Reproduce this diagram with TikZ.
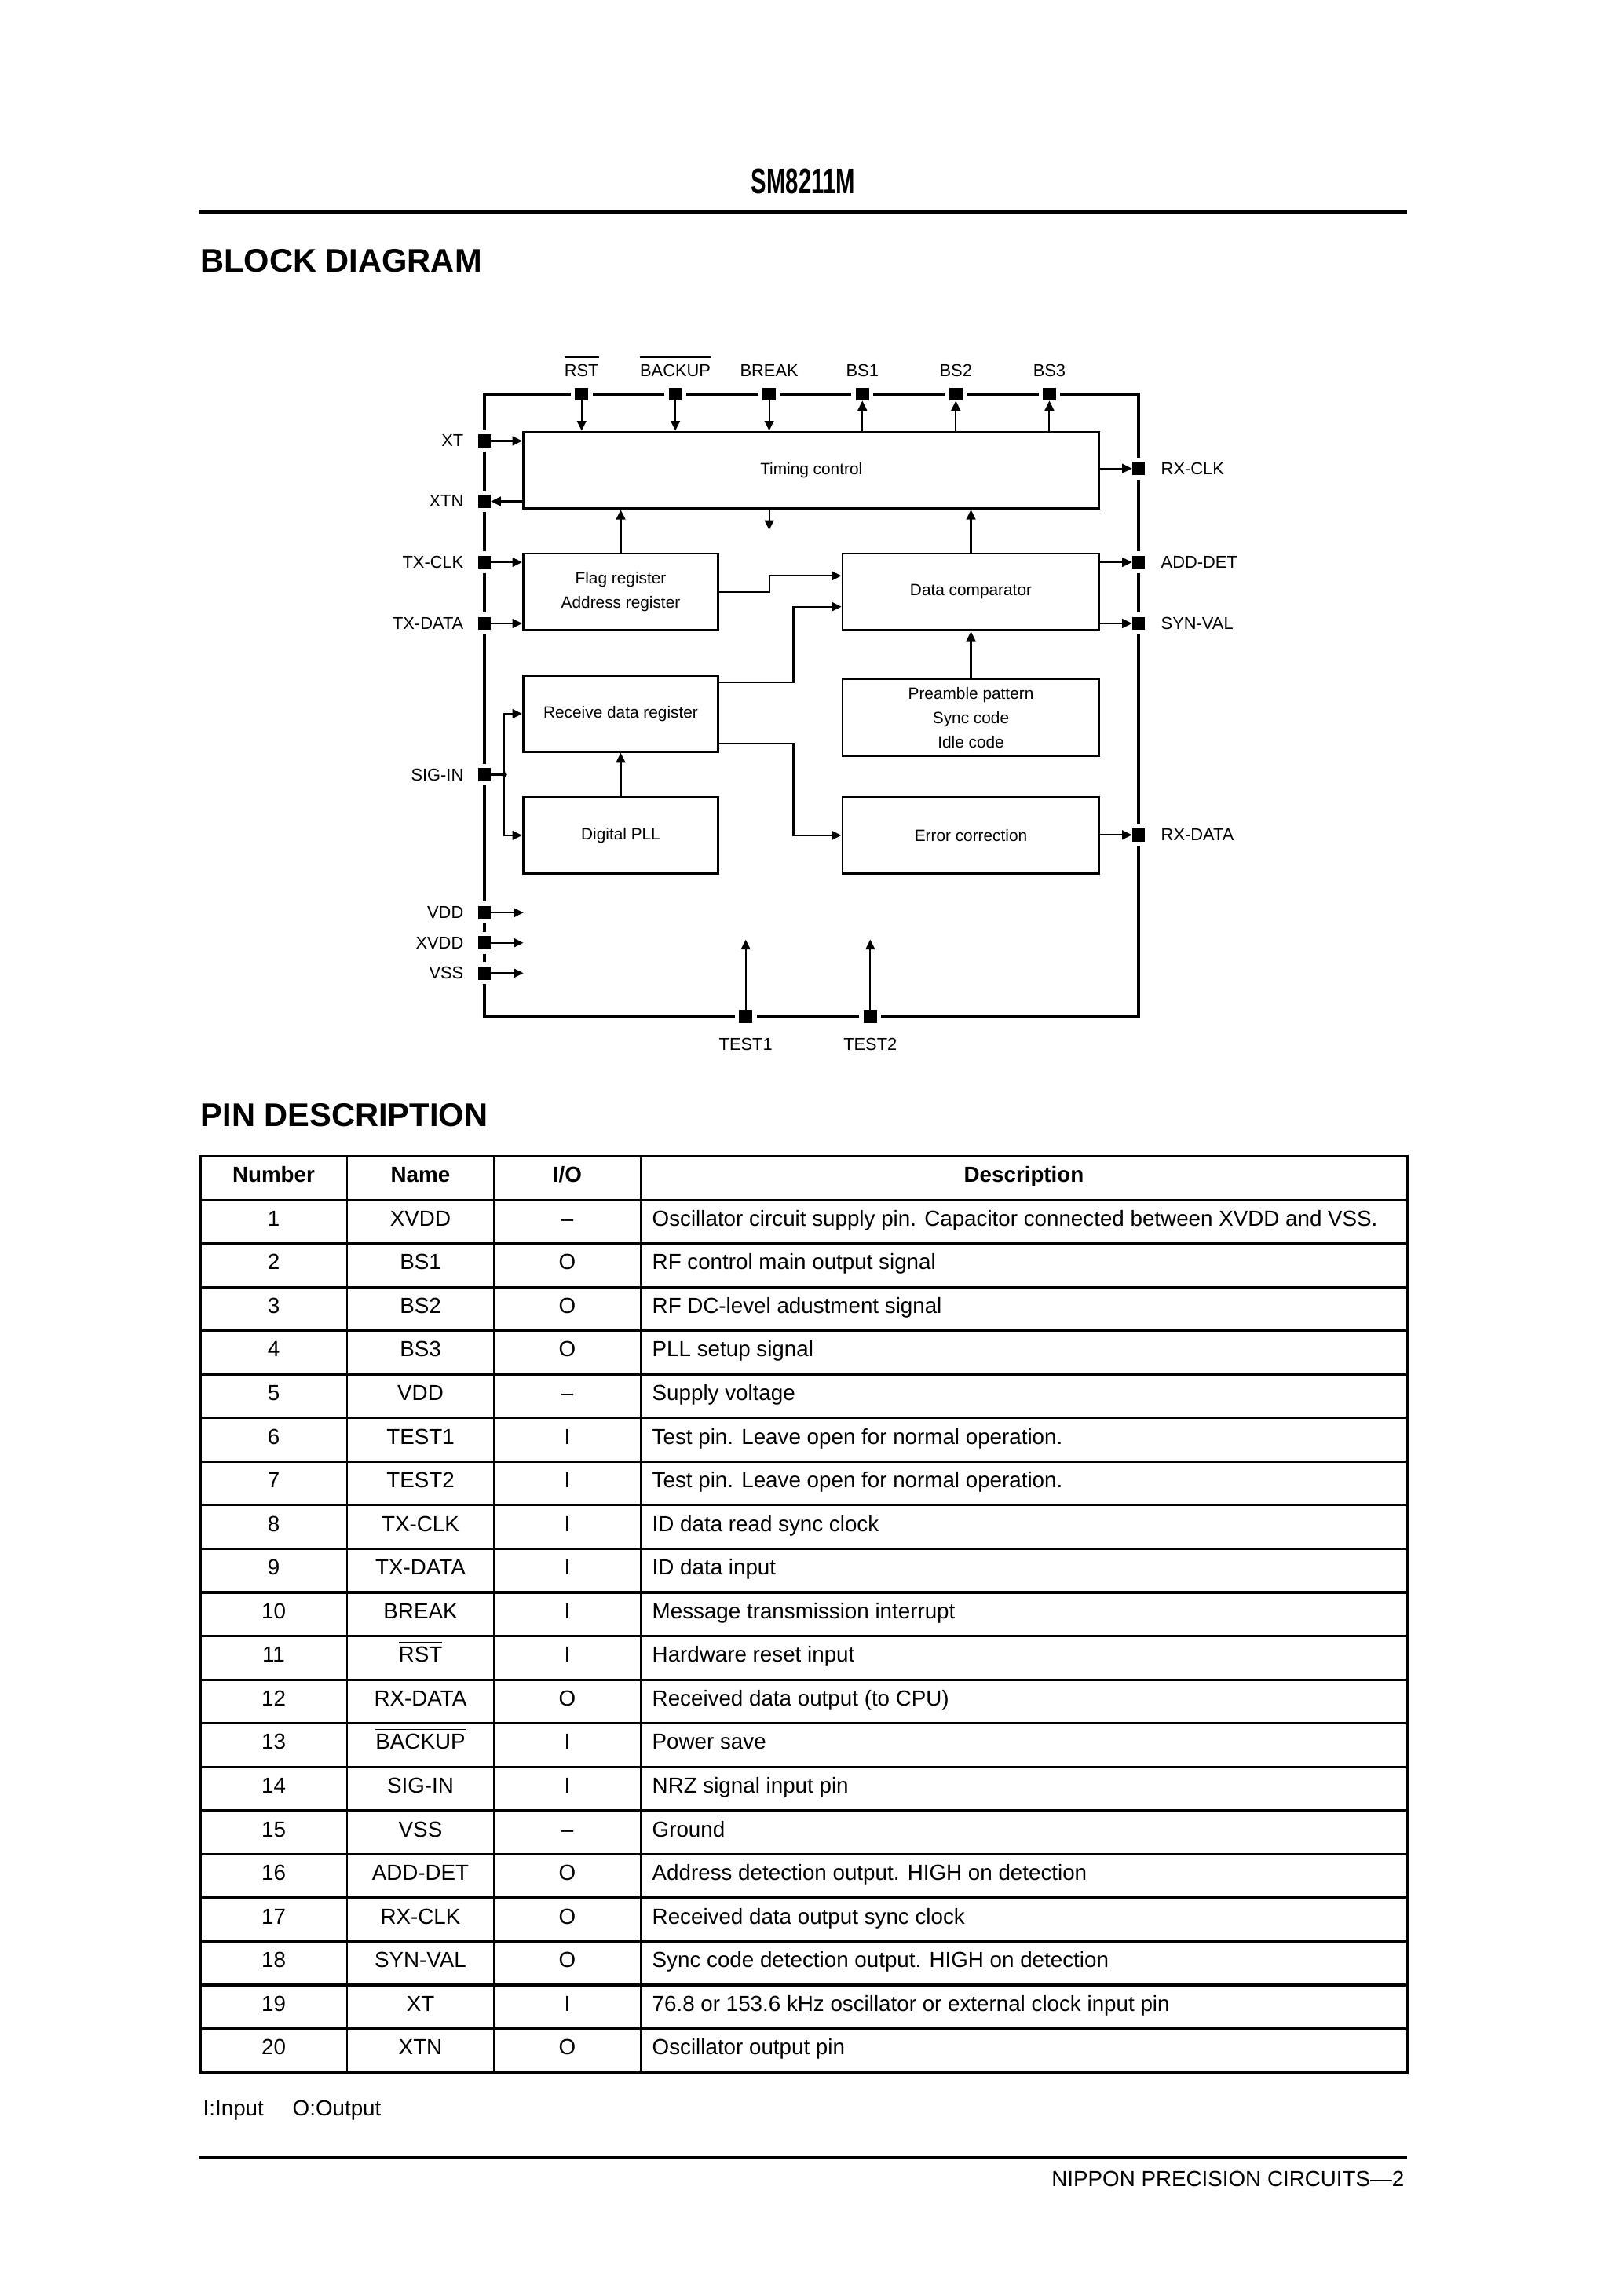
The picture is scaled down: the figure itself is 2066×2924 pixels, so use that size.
\documentclass[tikz,border=0pt]{standalone}
\usepackage{fontspec}
\usepackage{graphicx}
\setmainfont{Liberation Sans}
\usetikzlibrary{arrows.meta}
\newcommand\pxu{0.28814pt}
\newcommand\myover[2][1.5pt]{\leavevmode\vbox{\hrule height 0.45pt\kern#1\hbox{#2}}}
\begin{document}
\begin{tikzpicture}[x=0.28814pt,y=-0.28814pt]
\tikzset{
 frameline/.style={line width=1.15pt},
 blk/.style={draw, line width=0.85pt, inner sep=0pt, align=center, font=\fontsize{6}{8.85}\selectfont},
 pinsq/.style={rectangle, fill=black, minimum size=4.8pt, inner sep=0pt, outer sep=0pt, preaction={draw=white, line width=3.2pt}},
 lab/.style={inner sep=0pt, font=\fontsize{6.3}{7.3}\selectfont},
 arr/.style={line width=0.6pt, -{Triangle[length=3.6pt,width=3.4pt]}},
 wire/.style={line width=0.6pt},
 cell/.style={inner sep=0pt, font=\fontsize{8}{9.6}\selectfont},
 hcell/.style={inner sep=0pt, font=\fontsize{8}{9.6}\selectfont\bfseries},
 rulebar/.style={line width=1.25pt}
}
\fill[white] (0,0) rectangle (2066,2924);
\useasboundingbox (0,0) rectangle (2066,2924);

% ---------- header ----------
\node[anchor=base, inner sep=0pt] (title) at (1023,246.5) {\scalebox{0.65}[1]{\fontsize{13}{15}\selectfont\bfseries SM8211M}};
\draw[rulebar] (253,269.5) -- (1792,269.5);
\node[anchor=base west, inner sep=0pt, font=\fontsize{12}{14}\selectfont\bfseries] (h1) at (254.5,347) {BLOCK DIAGRAM};

% ---------- block diagram ----------
\draw[frameline] (617,502) rectangle (1450,1294.3);

% blocks
\node[blk, minimum width={733.5*\pxu}, minimum height={97.7*\pxu}] (tc) at (1033.25,598.85) {Timing control};
\node[blk, minimum width={248*\pxu}, minimum height={97.7*\pxu}] (fr) at (790.5,753.85) {Flag register\\Address register};
\node[blk, minimum width={327*\pxu}, minimum height={97.7*\pxu}] (dc) at (1236.5,753.85) {Data comparator};
\node[blk, minimum width={248*\pxu}, minimum height={96.6*\pxu}] (rd) at (790.5,909) {Receive data register};
\node[blk, minimum width={327*\pxu}, minimum height={97.7*\pxu}] (pp) at (1236.5,913.85) {Preamble pattern\\Sync code\\Idle code};
\node[blk, minimum width={248*\pxu}, minimum height={97.7*\pxu}] (pll) at (790.5,1063.85) {Digital PLL};
\node[blk, minimum width={327*\pxu}, minimum height={97.7*\pxu}] (ec) at (1236.5,1063.85) {Error correction};

% pins: top
\node[pinsq] (pRST) at (740.7,502) {};
\node[pinsq] (pBKP) at (860.1,502) {};
\node[pinsq] (pBRK) at (979.6,502) {};
\node[pinsq] (pBS1) at (1098.3,502) {};
\node[pinsq] (pBS2) at (1217.3,502) {};
\node[pinsq] (pBS3) at (1336.4,502) {};
% pins: left
\node[pinsq] (pXT) at (617,561.5) {};
\node[pinsq] (pXTN) at (617,638.5) {};
\node[pinsq] (pTXC) at (617,716) {};
\node[pinsq] (pTXD) at (617,794) {};
\node[pinsq] (pSIG) at (617,986.5) {};
\node[pinsq] (pVDD) at (617,1162.3) {};
\node[pinsq] (pXVDD) at (617,1200.7) {};
\node[pinsq] (pVSS) at (617,1239.3) {};
% pins: right
\node[pinsq] (pRXC) at (1450,596.7) {};
\node[pinsq] (pADD) at (1450,716) {};
\node[pinsq] (pSYN) at (1450,794) {};
\node[pinsq] (pRXD) at (1450,1063.3) {};
% pins: bottom
\node[pinsq] (pT1) at (949.7,1294.3) {};
\node[pinsq] (pT2) at (1108.3,1294.3) {};

% labels top
\node[lab, anchor=base] (lRST) at (740.7,479.3) {\myover[2.4pt]{RST}};
\node[lab, anchor=base] (lBKP) at (860.1,479.3) {\myover[2.4pt]{BACKUP}};
\node[lab, anchor=base] (lBRK) at (979.6,479.3) {BREAK};
\node[lab, anchor=base] (lBS1) at (1098.3,479.3) {BS1};
\node[lab, anchor=base] (lBS2) at (1217.3,479.3) {BS2};
\node[lab, anchor=base] (lBS3) at (1336.4,479.3) {BS3};
% labels left
\node[lab, anchor=base east] (lXT) at (591,569) {XT};
\node[lab, anchor=base east] (lXTN) at (591,646) {XTN};
\node[lab, anchor=base east] (lTXC) at (591,723.5) {TX-CLK};
\node[lab, anchor=base east] (lTXD) at (591,801.5) {TX-DATA};
\node[lab, anchor=base east] (lSIG) at (591,994) {SIG-IN};
\node[lab, anchor=base east] (lVDD) at (591,1169.8) {VDD};
\node[lab, anchor=base east] (lXVDD) at (591,1208.2) {XVDD};
\node[lab, anchor=base east] (lVSS) at (591,1246.8) {VSS};
% labels right
\node[lab, anchor=base west] (lRXC) at (1478,604.2) {RX-CLK};
\node[lab, anchor=base west] (lADD) at (1478,723.5) {ADD-DET};
\node[lab, anchor=base west] (lSYN) at (1478,801.5) {SYN-VAL};
\node[lab, anchor=base west] (lRXD) at (1478,1070.8) {RX-DATA};
% labels bottom
\node[lab, anchor=base] (lT1) at (949.7,1337.5) {TEST1};
\node[lab, anchor=base] (lT2) at (1108.3,1337.5) {TEST2};

% connectors top
\draw[arr] (pRST.south) -- (pRST |- tc.north);
\draw[arr] (pBKP.south) -- (pBKP |- tc.north);
\draw[arr] (pBRK.south) -- (pBRK |- tc.north);
\draw[arr] (pBS1 |- tc.north) -- (pBS1.south);
\draw[arr] (pBS2 |- tc.north) -- (pBS2.south);
\draw[arr] (pBS3 |- tc.north) -- (pBS3.south);
% connectors left
\draw[arr] (pXT.east) -- (pXT -| tc.west);
\draw[arr] (tc.west |- pXTN) -- (pXTN.east);
\draw[arr] (pTXC.east) -- (pTXC -| fr.west);
\draw[arr] (pTXD.east) -- (pTXD -| fr.west);
\coordinate (sd) at (642.3,986.5);
\draw[wire] (pSIG.east) -- (sd);
\fill (sd) circle[radius=0.95pt];
\draw[arr] (sd) |- (rd.west);
\draw[arr] (sd) |- (pll.west);
\coordinate (eVDD) at (666.5,1162.3);
\coordinate (eXVDD) at (666.5,1200.7);
\coordinate (eVSS) at (666.5,1239.3);
\draw[arr] (pVDD.east) -- (eVDD);
\draw[arr] (pXVDD.east) -- (eXVDD);
\draw[arr] (pVSS.east) -- (eVSS);
% connectors right
\draw[arr] (tc.east |- pRXC) -- (pRXC.west);
\draw[arr] (dc.east |- pADD) -- (pADD.west);
\draw[arr] (dc.east |- pSYN) -- (pSYN.west);
\draw[arr] (ec.east |- pRXD) -- (pRXD.west);
% connectors bottom
\coordinate (eT1) at (949.7,1196.7);
\coordinate (eT2) at (1108.3,1196.7);
\draw[arr] (pT1.north) -- (eT1);
\draw[arr] (pT2.north) -- (eT2);
% internal connectors
\draw[arr] (fr.north) -- (fr.north |- tc.south);
\coordinate (eDown) at (979.6,675);
\draw[arr] (eDown |- tc.south) -- (eDown);
\draw[arr] (dc.north) -- (dc.north |- tc.south);
\draw[arr] (pp.north) -- (dc.south);
\draw[arr] (pll.north) -- (rd.south);
\coordinate (j1) at (979.6,733.3);
\draw[arr] (fr.east) -- (fr.east -| j1) |- (dc.west |- j1);
\coordinate (ja) at (1010.5,869.3);
\coordinate (jb) at (1010.5,772.7);
\draw[arr] (rd.east |- ja) -- (ja) -- (jb) -- (dc.west |- jb);
\coordinate (jc) at (1010.5,947.3);
\draw[arr] (rd.east |- jc) -- (jc) |- (ec.west);

% ---------- pin description ----------
\node[anchor=base west, inner sep=0pt, font=\fontsize{12}{14}\selectfont\bfseries] (h2) at (255,1434) {PIN DESCRIPTION};

\foreach \k in {1,...,20} \draw[line width=0.9pt] (255,{1472.5+55.55*\k}) -- (1792,{1472.5+55.55*\k});
\foreach \xx in {442,629,816} \draw[line width=0.75pt] (\xx,1472.5) -- (\xx,2639.05);
\draw[line width=1.1pt] (255,1472.5) rectangle (1792,2639.05);

\node[hcell, anchor=base] (hNum) at (348.5,1505.8) {Number};
\node[hcell, anchor=base] (hName) at (535.5,1505.8) {Name};
\node[hcell, anchor=base] (hIO) at (722.5,1505.8) {I/O};
\node[hcell, anchor=base] (hDesc) at (1304,1505.8) {Description};

\foreach \n/\nm/\io/\ds [count=\k] in {
 1/XVDD/–/Oscillator circuit supply pin. Capacitor connected between XVDD and VSS.,
 2/BS1/O/RF control main output signal,
 3/BS2/O/RF DC-level adustment signal,
 4/BS3/O/PLL setup signal,
 5/VDD/–/Supply voltage,
 6/TEST1/I/Test pin. Leave open for normal operation.,
 7/TEST2/I/Test pin. Leave open for normal operation.,
 8/TX-CLK/I/ID data read sync clock,
 9/TX-DATA/I/ID data input,
 10/BREAK/I/Message transmission interrupt,
 11/{\myover{RST}}/I/Hardware reset input,
 12/RX-DATA/O/Received data output (to CPU),
 13/{\myover{BACKUP}}/I/Power save,
 14/SIG-IN/I/NRZ signal input pin,
 15/VSS/–/Ground,
 16/ADD-DET/O/Address detection output. HIGH on detection,
 17/RX-CLK/O/Received data output sync clock,
 18/SYN-VAL/O/Sync code detection output. HIGH on detection,
 19/XT/I/76.8 or 153.6 kHz oscillator or external clock input pin,
 20/XTN/O/Oscillator output pin}
{
 \pgfmathsetmacro\yb{1472.5+55.55*\k+27.775+5.5}
 \node[cell, anchor=base] (num\k) at (348.5,\yb) {\n};
 \node[cell, anchor=base] (nam\k) at (535.5,\yb) {\nm};
 \node[cell, anchor=base] (io\k) at (722.5,\yb) {\io};
 \node[cell, anchor=base west] (ds\k) at (830,\yb) {\ds};
}

\node[cell, anchor=base west] (fn1) at (258,2694) {I:Input};
\node[cell, anchor=base west] (fn2) at (372,2694) {O:Output};

% ---------- footer ----------
\draw[rulebar] (253,2748) -- (1792,2748);
\node[cell, anchor=base east] (foot) at (1789,2784) {NIPPON PRECISION CIRCUITS—2};
\end{tikzpicture}
\end{document}
